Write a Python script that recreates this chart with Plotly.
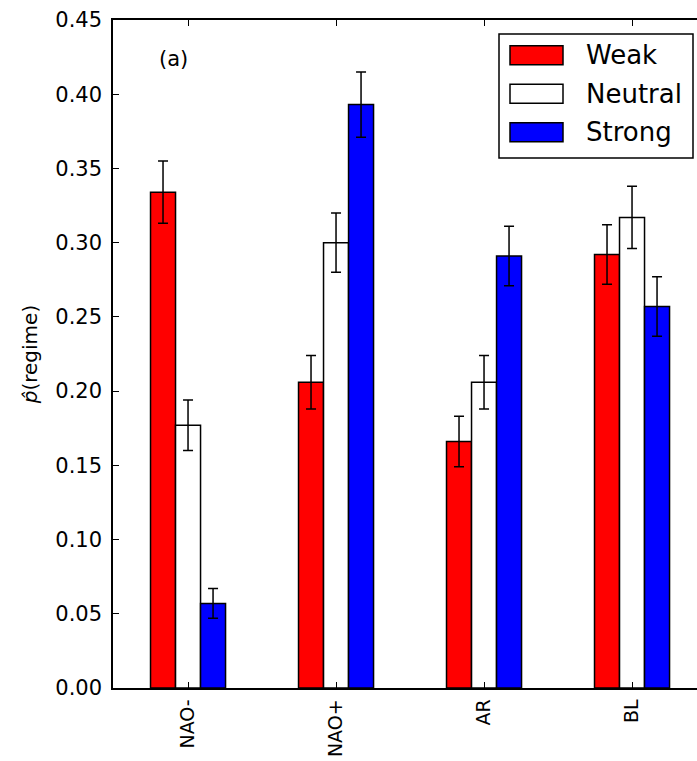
import plotly.graph_objects as go

categories = ["NAO-", "NAO+", "AR", "BL"]
series_names = ["Weak", "Neutral", "Strong"]
weak = [0.334, 0.206, 0.166, 0.292]
neutral = [0.177, 0.300, 0.206, 0.317]
strong = [0.057, 0.393, 0.291, 0.257]
weak_err = [0.021, 0.018, 0.017, 0.020]
neutral_err = [0.017, 0.020, 0.018, 0.021]
strong_err = [0.010, 0.022, 0.020, 0.020]
y_ticks = [0.00, 0.05, 0.10, 0.15, 0.20, 0.25, 0.30, 0.35, 0.40, 0.45]

colors = ["#ff0000", "#ffffff", "#0000ff"]
values = [weak, neutral, strong]
errors = [weak_err, neutral_err, strong_err]

FONT = "DejaVu Sans"
W, H = 697, 761
L, R, T, B = 113, 0, 20, 73
pw, ph = W - L - R, H - T - B

fig = go.Figure()
for name, col, vals, errs in zip(series_names, colors, values, errors):
    fig.add_trace(go.Bar(
        x=list(range(len(categories))), y=vals, name=name,
        marker=dict(color=col, line=dict(color="black", width=1.5)),
        error_y=dict(type="data", array=errs, visible=True,
                     color="black", thickness=1.5, width=5),
        showlegend=False,
    ))

def px2paper(x, y):
    return (x - L) / pw, (H - B - y) / ph

# custom legend (matplotlib style)
x0, y0 = px2paper(499, 34)
x1, y1 = px2paper(693, 158)
fig.add_shape(type="rect", xref="paper", yref="paper", x0=x0, y0=y0, x1=x1, y1=y1,
              line=dict(color="black", width=1.5), fillcolor="white", layer="above")
row_y = [55.3, 93.7, 132.3]
for name, col, ry in zip(series_names, colors, row_y):
    sx0, sy0 = px2paper(510, ry - 9.5)
    sx1, sy1 = px2paper(563, ry + 9.5)
    fig.add_shape(type="rect", xref="paper", yref="paper", x0=sx0, y0=sy0, x1=sx1, y1=sy1,
                  line=dict(color="black", width=1.5), fillcolor=col, layer="above")
    tx, ty = px2paper(584, ry)
    fig.add_annotation(x=tx, y=ty, xref="paper", yref="paper", text=name,
                       showarrow=False, xanchor="left", yanchor="middle",
                       font=dict(family=FONT, size=26, color="black"))

ax, ay = px2paper(173, 59)
fig.add_annotation(x=ax, y=ay, xref="paper", yref="paper", text="(a)",
                   showarrow=False, xanchor="center", yanchor="middle",
                   font=dict(family=FONT, size=21, color="black"))

fig.update_layout(
    width=W, height=H,
    margin=dict(l=L, r=R, t=T, b=B, pad=0),
    paper_bgcolor="white", plot_bgcolor="white",
    barmode="group", bargap=0.493, bargroupgap=0,
    font=dict(family=FONT, size=21, color="black"),
    xaxis=dict(
        range=[-0.507, 3.439], tickmode="array",
        tickvals=list(range(len(categories))), ticktext=categories,
        tickangle=-90, ticks="inside", ticklen=6, tickwidth=1, tickcolor="black",
        showline=True, linecolor="black", linewidth=1.5, mirror="ticks",
        showgrid=False, zeroline=False, tickfont=dict(size=19),
        ticklabelstandoff=2, automargin=False,
    ),
    yaxis=dict(
        range=[0, 0.45], tickmode="array", tickvals=y_ticks,
        ticktext=[f"{v:.2f}" for v in y_ticks],
        ticks="inside", ticklen=6, tickwidth=1, tickcolor="black",
        showline=True, linecolor="black", linewidth=1.5, mirror=False,
        showgrid=False, zeroline=False, tickfont=dict(size=21),
        ticklabelstandoff=5, automargin=False,
        title=dict(text="<i>p\u0302</i>(regime)", font=dict(size=20), standoff=12),
    ),
)

fig.write_html("out.html", config={"displayModeBar": False},
               post_script="document.body.style.margin='0';document.body.style.overflow='hidden';")
